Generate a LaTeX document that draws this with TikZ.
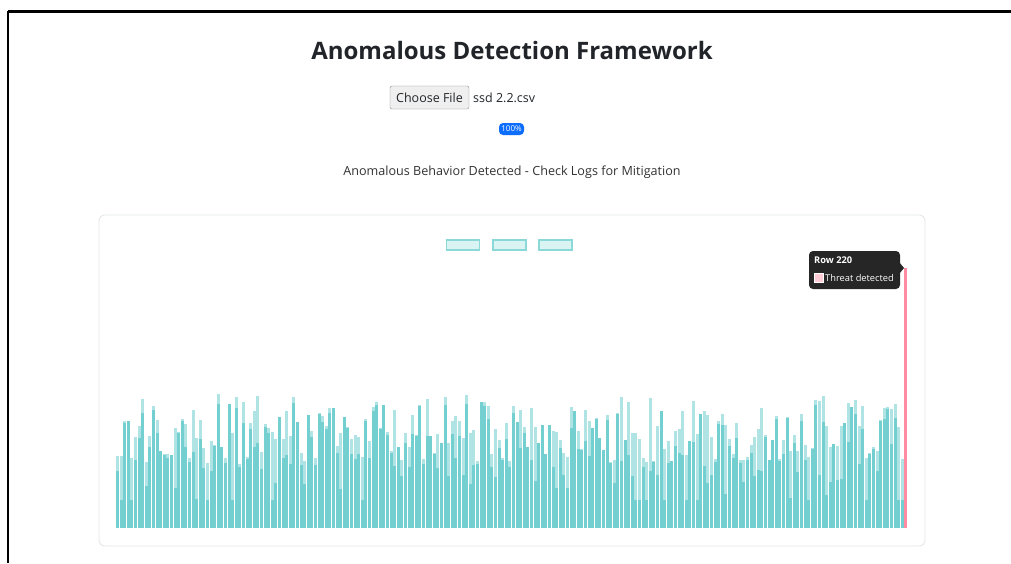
\documentclass[tikz,border=0pt]{standalone}
\usepackage{fontspec}
\setmainfont{Open Sans}
\definecolor{ink}{HTML}{212529}
\definecolor{msg}{HTML}{333333}
\definecolor{cardline}{HTML}{E4E6E8}
\definecolor{btnfill}{HTML}{EFEFEF}
\definecolor{btnline}{HTML}{8F8F8F}
\definecolor{pillblue}{HTML}{0D6EFD}
\definecolor{barlight}{HTML}{B0E4E4}
\definecolor{bardark}{HTML}{74D0D0}
\definecolor{legfill}{HTML}{DAF3F3}
\definecolor{legline}{HTML}{8AD8D8}
\definecolor{threat}{HTML}{FF8CA2}
\definecolor{tipfill}{HTML}{262626}
\tikzset{
  legendbox/.style={draw=legline, fill=legfill, line width=1.2pt, minimum width=33pt, minimum height=10pt, inner sep=0pt},
  tiptext/.style={text=white, font=\fontsize{9.3}{11}\selectfont, inner sep=0pt, anchor=west},
}
\begin{document}
\begin{tikzpicture}[x=1pt,y=-1pt]
\path[use as bounding box, fill=white] (0,0) rectangle (1011,563);
% window frame
\coordinate (ftl) at (8,11);
\coordinate (ftr) at (1011,11);
\coordinate (fbl) at (8,563);
\draw[line width=3pt] (ftl) -- (ftr);
\draw[line width=2pt] (ftl) -- (fbl);

% header
\node[font=\bfseries\fontsize{24}{29}\selectfont, text=ink] (title) at (512,50) {Anomalous Detection Framework};
\node[draw=btnline, fill=btnfill, rounded corners=2pt, minimum width=79pt, minimum height=23pt, inner sep=0pt,
      font=\fontsize{12.5}{15}\selectfont, text=ink] (choose) at (429.5,97.5) {Choose File};
\node[anchor=west, inner sep=0pt, font=\fontsize{12.5}{15}\selectfont, text=ink] (fname) at (473,97.5) {ssd 2.2.csv};
\node[fill=pillblue, rounded corners=4pt, minimum width=25pt, minimum height=12pt, inner sep=0pt,
      text=white, font=\fontsize{8}{9}\selectfont] (pill) at (511.5,129) {100\%};
\node[font=\fontsize{12.6}{15}\selectfont, text=msg] (status) at (512,172.5) {Anomalous Behavior Detected - Check Logs for Mitigation};

% chart card
\draw[cardline, line width=0.9pt, rounded corners=6pt] (99,215) rectangle (925,546);
\node[legendbox] (leg1) at (463,245) {};
\node[legendbox] (leg2) at (509.5,245) {};
\node[legendbox] (leg3) at (555.5,245) {};

% bars: one per row, lighter outer value over a darker inner value
\pgfmathsetseed{4217}
\foreach \i in {1,...,219}{
  \pgfmathsetmacro\xa{116+(\i-1)*3.6}
  \pgfmathsetmacro\xb{\xa+3.0}
  \pgfmathsetmacro\ta{394+rnd*70}
  \pgfmathsetmacro\r{rnd}
  \pgfmathsetmacro\tb{min(500,\ta+\r*\r*\r*75)}
  \fill[barlight] (\xa,528) rectangle (\xb,\ta);
  \fill[bardark] (\xa,528) rectangle (\xb,\tb);
}
% flagged row
\coordinate (hit) at (905.5,268);
\fill[threat] (904,528) rectangle (907,268);

% tooltip
\fill[tipfill, rounded corners=4pt] (809,251) rectangle (900,289);
\fill[tipfill] (899,262) -- (904,268) -- (899,274) -- cycle;
\node[tiptext, font=\bfseries\fontsize{9.3}{11}\selectfont] (tiprow) at (814,260.5) {Row 220};
\node[draw=white, fill=threat!45, line width=0.8pt, minimum size=9pt, inner sep=0pt] (swatch) at (818.5,278) {};
\node[tiptext] (tipthreat) at (825,278) {Threat detected};
\end{tikzpicture}
\end{document}
